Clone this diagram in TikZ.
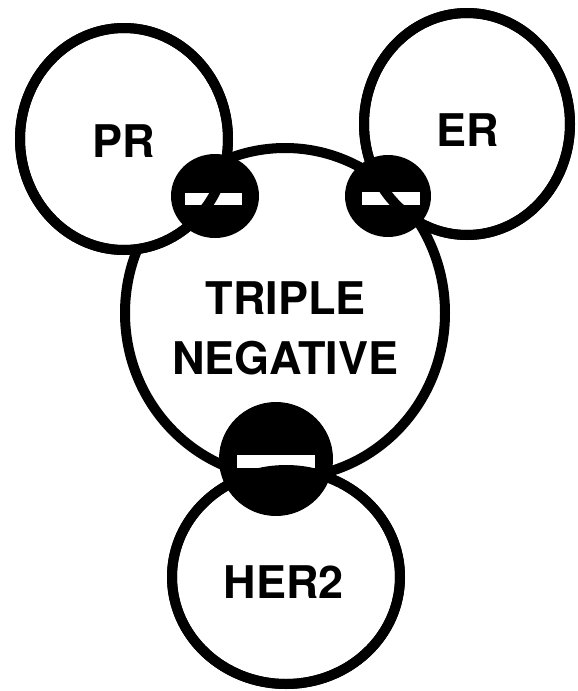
\documentclass[tikz,border=0pt]{standalone}
\usepackage{fontspec}
\setmainfont{TeX Gyre Heros}
\begin{document}
\begin{tikzpicture}[x=1pt,y=-1pt,
  bub/.style={draw=black, fill=white, line width=10pt},
  rim/.style={draw=black, line width=10pt},
  blob/.style={fill=black},
  bar/.style={fill=white},
  lbl/.style={font=\fontsize{45}{54}\selectfont\bfseries, anchor=base, inner sep=0pt}]
\useasboundingbox (0,0) rectangle (578,691);
\fill[white] (0,0) rectangle (578,691);
% large outlined circles
\draw[bub] (285,313) ellipse [x radius=160pt, y radius=165pt];
\draw[bub] (124,139) ellipse [x radius=104pt, y radius=111pt];
\draw[bub] (467,124) ellipse [x radius=103pt, y radius=111pt];
\draw[bub] (286,577) ellipse [x radius=114pt, y radius=107pt];
% black junction discs
\fill[blob] (215,196) ellipse [x radius=44pt, y radius=42pt];
\fill[blob] (388,196) ellipse [x radius=43pt, y radius=41pt];
\fill[blob] (276,459) circle [radius=57pt];
% white minus bars
\fill[bar] (185,193) rectangle (242,205);
\fill[bar] (362,192) rectangle (420,205);
\fill[bar] (237,455) rectangle (315,468);
% small circle outlines drawn over the bars
\draw[rim] (124,139) ellipse [x radius=104pt, y radius=111pt];
\draw[rim] (467,124) ellipse [x radius=103pt, y radius=111pt];
\draw[rim] (286,577) ellipse [x radius=114pt, y radius=107pt];
% labels
\node[lbl] (pr) at (124,157) {PR};
\node[lbl] (er) at (468,146) {ER};
\node[lbl] (triple) at (286,314) {TRIPLE};
\node[lbl] (negative) at (285,374) {NEGATIVE};
\node[lbl] (her2) at (284,598) {HER2};
\end{tikzpicture}
\end{document}
